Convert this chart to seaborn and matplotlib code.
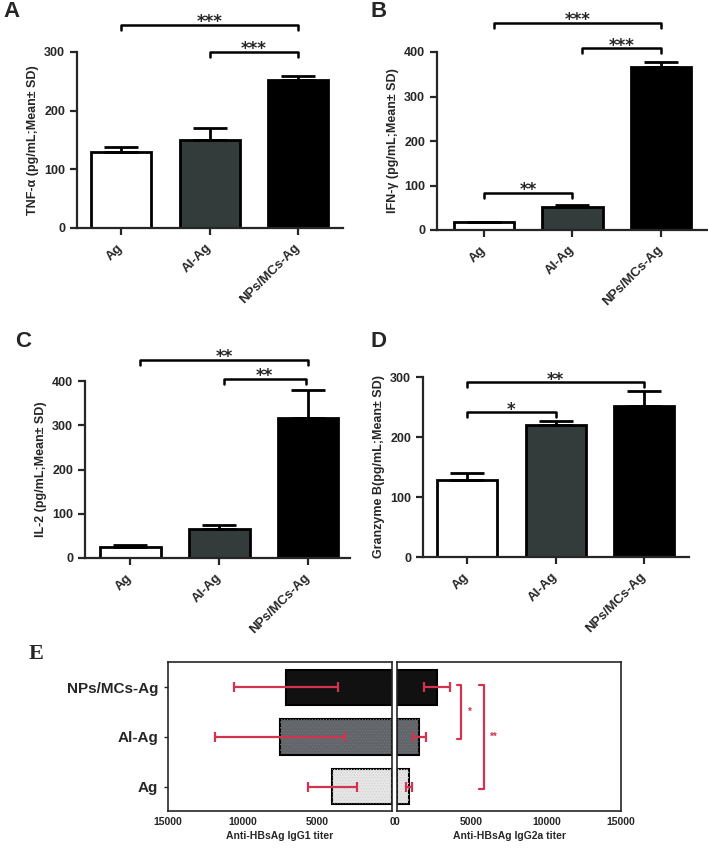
import matplotlib
matplotlib.use("Agg")
import matplotlib.pyplot as plt
import seaborn as sns

sns.set_style("ticks")
plt.rcParams["font.family"] = ["Liberation Sans", "DejaVu Sans"]
plt.rcParams["font.weight"] = "bold"
plt.rcParams["hatch.linewidth"] = 0.5

# ---- data ----
groups = ["Ag", "Al-Ag", "NPs/MCs-Ag"]
bar_colors = ["#ffffff", "#323c3c", "#000000"]

tnf_mean = [130, 150, 252]
tnf_sd = [8, 21, 7]
ifn_mean = [17, 51, 367]
ifn_sd = [1, 5, 11]
il2_mean = [25, 66, 317]
il2_sd = [5, 8, 63]
gzb_mean = [128, 220, 252]
gzb_sd = [12, 7, 24]

e_groups = ["NPs/MCs-Ag", "Al-Ag", "Ag"]
e_colors = ["#111111", "#60656a", "#e6e6e6"]
e_dots = ["#111111", "#70767b", "#d2d2d2"]
igg1_mean = [7100, 7500, 4000]
igg1_sd = [3480, 4350, 1630]
igg2a_mean = [2650, 1500, 800]
igg2a_sd = [870, 450, 200]

# significance brackets: (x1, x2, height, label)
tnf_sig = [(0, 2, 346, "***"), (1, 2, 300, "***")]
ifn_sig = [(0.11, 2, 466, "***"), (1.11, 2, 408, "***"), (0, 1, 84, "**")]
il2_sig = [(0.11, 2, 447, "**"), (1.05, 1.97, 404, "**")]
gzb_sig = [(0, 2, 291, "**"), (0, 1, 241, "*")]

RED = "#d2344f"

fig = plt.figure(figsize=(7.08, 8.51), dpi=100)
W, H = 708, 851


def px_axes(x0, y_top, x1, y_bot):
    return fig.add_axes([x0 / W, 1 - y_bot / H, (x1 - x0) / W, (y_bot - y_top) / H])


def bar_panel(ax, mean, sd, ylabel, ymax, step, sig, xlim):
    sns.barplot(x=groups, y=mean, hue=groups, palette=bar_colors, legend=False,
                edgecolor="black", linewidth=2, width=0.68, errorbar=None, ax=ax)
    ax.errorbar(range(3), mean, yerr=[[0] * 3, sd], fmt="none", ecolor="black",
                elinewidth=2, capsize=12, capthick=2, zorder=3)
    ax.set_xlim(*xlim)
    ax.set_ylim(0, ymax)
    ax.set_yticks(range(0, ymax + 1, step))
    sns.despine(ax=ax)
    for s in ["left", "bottom"]:
        ax.spines[s].set_linewidth(1.6)
    ax.tick_params(width=1.6, length=5, labelsize=9)
    ax.set_ylabel(ylabel, fontsize=9, fontweight="bold", labelpad=4)
    ax.set_xticks(range(3))
    ax.set_xticklabels(groups, rotation=45, ha="right", va="center",
                       rotation_mode="anchor", fontsize=9.5, fontweight="bold")
    ax.tick_params(axis="x", pad=8)
    drop = ymax * 0.028
    for x1, x2, h, lab in sig:
        ax.plot([x1, x1, x2, x2], [h - drop, h, h, h - drop], color="black",
                lw=1.8, clip_on=False)
        ax.annotate(lab, xy=((x1 + x2) / 2, h), xytext=(0, 2),
                    textcoords="offset points", ha="center", va="center",
                    fontsize=12, fontweight="bold", family="DejaVu Sans",
                    annotation_clip=False)


ax_a = px_axes(77, 52, 343, 228)
bar_panel(ax_a, tnf_mean, tnf_sd, "TNF-α (pg/mL;Mean± SD)", 300, 100, tnf_sig, (-0.5, 2.51))
ax_b = px_axes(437, 52, 707, 230)
bar_panel(ax_b, ifn_mean, ifn_sd, "IFN-γ (pg/mL;Mean± SD)", 400, 100, ifn_sig, (-0.53, 2.52))
ax_c = px_axes(85, 381, 350, 558)
bar_panel(ax_c, il2_mean, il2_sd, "IL-2 (pg/mL;Mean± SD)", 400, 100, il2_sig, (-0.51, 2.47))
ax_d = px_axes(423, 377, 689, 557)
bar_panel(ax_d, gzb_mean, gzb_sd, "Granzyme B(pg/mL;Mean± SD)", 300, 100, gzb_sig, (-0.5, 2.51))

# ---- panel E ----
ax_l = px_axes(168, 662, 392, 811)
ax_r = px_axes(397, 662, 621, 811)

for ax, mean, sd in [(ax_l, igg1_mean, igg1_sd), (ax_r, igg2a_mean, igg2a_sd)]:
    sns.barplot(x=mean, y=e_groups, hue=e_groups, palette=e_colors, legend=False,
                orient="h", edgecolor="black", linewidth=1.5, width=0.71,
                errorbar=None, ax=ax)
    # faint dotted texture on the bars
    ax.barh(range(3), mean, height=0.71, facecolor="none", edgecolor=e_dots,
            hatch="......", linewidth=0, zorder=2)
    ax.errorbar(mean, range(3), xerr=sd, fmt="none", ecolor=RED, elinewidth=1.6,
                capsize=3.5, capthick=1.6, zorder=3)
    ax.set_ylim(2.49, -0.51)
    ax.set_xticks([0, 5000, 10000, 15000])
    ax.set_xticklabels(["0", "5000", "10000", "15000"], fontsize=7.5, fontweight="bold")
    for s in ax.spines.values():
        s.set_linewidth(1.2)
    ax.tick_params(axis="x", length=0, pad=4)
    ax.set_ylabel("")

ax_l.set_xlim(15000, 0)
ax_r.set_xlim(0, 15000)
ax_l.tick_params(axis="y", length=3, width=1, labelsize=11, pad=4)
for t in ax_l.get_yticklabels():
    t.set_fontweight("bold")
ax_r.set_yticks([])
ax_l.set_xlabel("Anti-HBsAg IgG1 titer", fontsize=7.5, fontweight="bold", labelpad=3)
ax_r.set_xlabel("Anti-HBsAg IgG2a titer", fontsize=7.5, fontweight="bold", labelpad=3)

# red significance brackets on IgG2a side
e_sig = [(0, 1, 4300, "*"), (0, 2, 5800, "**")]
for y1, y2, xpos, lab in e_sig:
    ax_r.plot([xpos - 280, xpos, xpos, xpos - 280], [y1 - 0.04, y1 - 0.04, y2 + 0.04, y2 + 0.04],
              color=RED, lw=1.6)
    ax_r.text(xpos + 450, (y1 + y2) / 2, lab, color=RED, fontsize=7,
              ha="left", va="center")

# panel letters
fig.text(3 / W, 1 - 1 / H, "A", fontsize=16, fontweight="bold", va="top")
fig.text(370 / W, 1 - 1 / H, "B", fontsize=16, fontweight="bold", va="top")
fig.text(15 / W, 1 - 331 / H, "C", fontsize=16, fontweight="bold", va="top")
fig.text(371 / W, 1 - 331 / H, "D", fontsize=16, fontweight="bold", va="top")
fig.text(29 / W, 1 - 644 / H, "E", fontsize=16, fontweight="bold", va="top",
         family="Liberation Serif")

fig.savefig("out.png", dpi=100)
